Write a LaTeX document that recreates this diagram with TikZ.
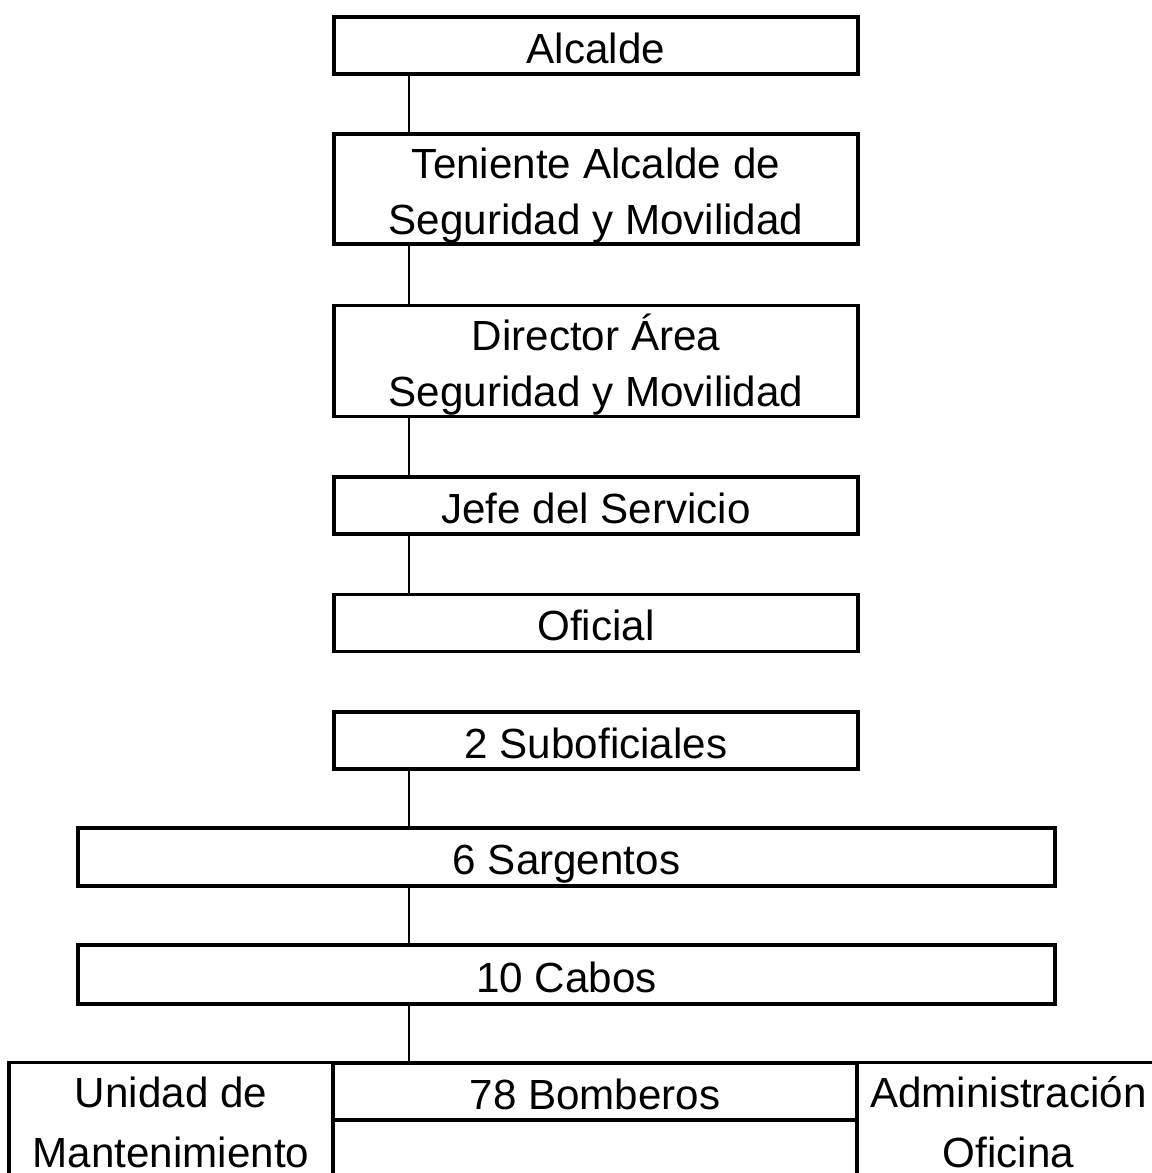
\documentclass[tikz,border=0pt]{standalone}
\usepackage{fontspec}
\setmainfont{Liberation Sans}
\tikzset{
  cargo/.style={draw,line width=1.9pt,inner sep=0pt,align=center,minimum width=10.48cm,
    text height=20pt,text depth=0pt,font=\fontsize{24}{31.8}\selectfont},
  dos/.style={text height=51.8pt},
  ancho/.style={cargo,minimum width=19.54cm},
  celda/.style={cargo,font=\fontsize{24}{34}\selectfont},
  enlace/.style={line width=1.1pt},
}
\begin{document}
\begin{tikzpicture}[x=0.02cm,y=-0.02cm]
\useasboundingbox(0,0)rectangle(1152,1173);
\clip(0,0)rectangle(1152,1173);
% cadena de mando
\node[cargo,minimum height=1.14cm](alcalde)at(596,45.5){Alcalde};
\node[cargo,dos,minimum height=2.2cm](teniente)at(596,189){Teniente Alcalde de\\Seguridad y Movilidad};
\node[cargo,dos,minimum height=2.22cm](director)at(596,361){Director Área\\Seguridad y Movilidad};
\node[cargo,minimum height=1.14cm](jefe)at(596,505.5){Jefe del Servicio};
\node[cargo,minimum height=1.14cm](oficial)at(596,623){Oficial};
\node[cargo,minimum height=1.14cm](subof)at(596,740.5){2 Suboficiales};
\node[ancho,minimum height=1.16cm](sarg)at(566.5,857){6 Sargentos};
\node[ancho,minimum height=1.18cm](cabos)at(566.5,974.5){10 Cabos};
%
\node[celda,text height=54pt,minimum width=6.48cm,minimum height=2.3cm](unidad)at(171,1120){Unidad de\\Mantenimiento};
\node[celda,minimum height=1.14cm](bomberos)at(595,1091.5){78 Bomberos};
\node[celda,minimum height=1.2cm](vacio)at(595,1150){};
\node[celda,text height=54pt,minimum width=6.06cm,minimum height=2.3cm](admin)at(1008.5,1120){Administración\\Oficina};
%
\draw[enlace]([xshift=1.54cm]alcalde.south west)--([xshift=1.54cm]teniente.north west);
\draw[enlace]([xshift=1.54cm]teniente.south west)--([xshift=1.54cm]director.north west);
\draw[enlace]([xshift=1.54cm]director.south west)--([xshift=1.54cm]jefe.north west);
\draw[enlace]([xshift=1.54cm]jefe.south west)--([xshift=1.54cm]oficial.north west);
\draw[enlace]([xshift=1.54cm]subof.south west)coordinate(b1)--(b1|-sarg.north);
\draw[enlace](b1|-sarg.south)--(b1|-cabos.north);
\draw[enlace](b1|-cabos.south)--(b1|-bomberos.north);
\end{tikzpicture}
\end{document}
